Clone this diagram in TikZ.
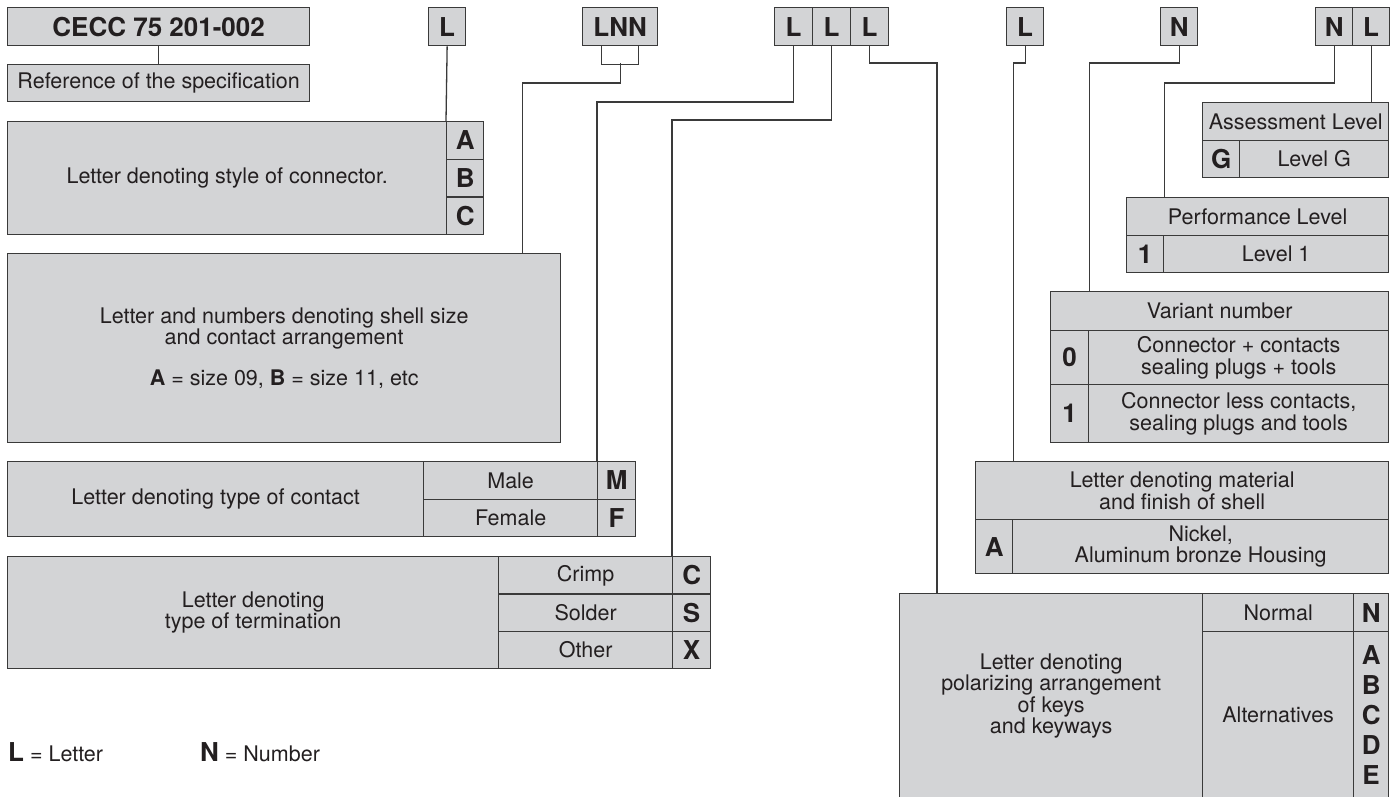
\documentclass[tikz,border=0pt]{standalone}
\usepackage{fontspec}
\setmainfont{TeX Gyre Heros}
\usetikzlibrary{positioning}
\definecolor{boxgray}{RGB}{211,212,214}
\definecolor{linec}{RGB}{58,58,58}
\definecolor{inkc}{RGB}{35,31,32}
\newcommand{\txtfont}{\fontsize{21.5}{21.5}\selectfont}
\newcommand{\letfont}{\fontsize{26}{30}\selectfont\bfseries}

\begin{document}
\begin{tikzpicture}[x=1pt,y=-1pt,
  cell/.style 2 args={draw=linec,fill=boxgray,line width=1.3pt,inner sep=0pt,
    anchor=north west,minimum width=#1pt,minimum height=#2pt,
    font=\txtfont,text=inkc,align=center},
  lett/.style 2 args={cell={#1}{#2},font=\letfont},
  wire/.style={draw=linec,line width=1.3pt}]
  \useasboundingbox (0,0) rectangle (1391,797);

  % code line
  \node[lett={302}{38}] (cecc) at (7,7) {CECC 75 201-002};
  \node[lett={37}{38}] (kstyle) at (428,7) {L};
  \node[lett={75}{38}] (lnn) at (582,7) {LNN};
  \node[lett={38}{38}] (lllA) at (774,7) {L};
  \node[lett={38}{38}] (lllB) at (812,7) {L};
  \node[lett={38}{38}] (lllC) at (850,7) {L};
  \node[lett={37}{38}] (kmat) at (1006,7) {L};
  \node[lett={37}{38}] (kvar) at (1160,7) {N};
  \node[lett={37}{38}] (kperf) at (1315,7) {N};
  \node[lett={37}{38}] (kass) at (1352,7) {L};

  % left column
  \node[cell={302}{37}] (spec) at (7,64) {Reference of the specification};
  \node[cell={439}{113}] (style) at (7,121) {Letter denoting style of connector.};
  \node[lett={37}{37.7}] (styA) at (446,121) {A};
  \node[lett={37}{37.7}] (styB) at (446,158.7) {B};
  \node[lett={37}{37.6}] (styC) at (446,196.4) {C};
  \node[cell={553}{189}] (shell) at (7,253)
    {Letter and numbers denoting shell size\\and contact arrangement\\[19pt]
     \textbf{A} = size 09, \textbf{B} = size 11, etc};
  \node[cell={416}{75}] (contact) at (7,461) {Letter denoting type of contact};
  \node[cell={174}{37.5}] (male) at (423,461) {Male};
  \node[cell={174}{37.5}] (female) at (423,498.5) {Female};
  \node[lett={38}{37.5}] (conM) at (597,461) {M};
  \node[lett={38}{37.5}] (conF) at (597,498.5) {F};
  \node[cell={491}{112}] (term) at (7,556) {Letter denoting\\type of termination};
  \node[cell={174}{37.4}] (crimp) at (498,556) {Crimp};
  \node[cell={174}{37.3}] (solder) at (498,593.4) {Solder};
  \node[cell={174}{37.3}] (other) at (498,630.7) {Other};
  \node[lett={38}{37.4}] (terC) at (672,556) {C};
  \node[lett={38}{37.3}] (terS) at (672,593.4) {S};
  \node[lett={38}{37.3}] (terX) at (672,630.7) {X};

  % right column
  \node[cell={186}{38}] (ass) at (1202,102) {Assessment Level};
  \node[lett={37}{37}] (assG) at (1202,140) {G};
  \node[cell={149}{37}] (assLv) at (1239,140) {Level G};
  \node[cell={262}{38}] (perf) at (1126,197) {Performance Level};
  \node[lett={37}{37}] (perf1) at (1126,235) {1};
  \node[cell={225}{37}] (perfLv) at (1163,235) {Level 1};
  \node[cell={338}{39}] (var) at (1050,291) {Variant number};
  \node[lett={38}{54}] (var0) at (1050,330) {0};
  \node[cell={300}{54}] (var0t) at (1088,330) {Connector + contacts\\sealing plugs + tools};
  \node[lett={38}{58}] (var1) at (1050,384) {1};
  \node[cell={300}{58}] (var1t) at (1088,384) {Connector less contacts,\\sealing plugs and tools};
  \node[cell={413}{58}] (mat) at (975,461) {Letter denoting material\\and finish of shell};
  \node[lett={37}{54}] (matA) at (975,519) {A};
  \node[cell={376}{54}] (matt) at (1012,519) {Nickel,\\Aluminum bronze Housing};
  \node[cell={303}{205}] (pol) at (899,593)
    {Letter denoting\\polarizing arrangement\\of keys\\and keyways};
  \node[cell={151}{38}] (norm) at (1202,593) {Normal};
  \node[cell={151}{167}] (alt) at (1202,631) {Alternatives};
  \node[lett={35}{38}] (polN) at (1353,593) {N};
  \node[lett={35}{167}] (polAE) at (1353,631) {A\\B\\C\\D\\E};

  % legend
  \node[anchor=base west,font=\txtfont,text=inkc,inner sep=0pt] (legL) at (8,761)
    {{\letfont L} = Letter};
  \node[anchor=base west,font=\txtfont,text=inkc,inner sep=0pt] (legN) at (200,761)
    {{\letfont N} = Number};

  % connectors
  \draw[wire] (cecc.south) -- (spec.north);
  \draw[wire] (kstyle.south) -- (styA.north west);
  \draw[wire] ([xshift=-18.5pt]lnn.south) -- ++(0,18) -| ([xshift=18.5pt]lnn.south);
  \draw[wire] (lnn.south |- 0,63) -- (lnn.south |- 0,83) -| ([xshift=-39pt]shell.north east);
  \draw[wire] (lllA.south) -- (lllA.south |- 0,102) -| (conM.north west);
  \draw[wire] (lllB.south) -- (lllB.south |- 0,120) -| (terC.north west);
  \draw[wire] (lllC.south) -- (lllC.south |- 0,63) -| ([xshift=38pt]pol.north west);
  \draw[wire] (kmat.south) -- (kmat.south |- 0,63) -| (matA.east |- mat.north);
  \draw[wire] (kvar.south) -- (kvar.south |- 0,63) -| (var0.east |- var.north);
  \draw[wire] (kperf.south) -- (kperf.south |- 0,83) -| (perf1.east |- perf.north);
  \draw[wire] (kass.south) -- (kass.south |- ass.north);
\end{tikzpicture}
\end{document}
